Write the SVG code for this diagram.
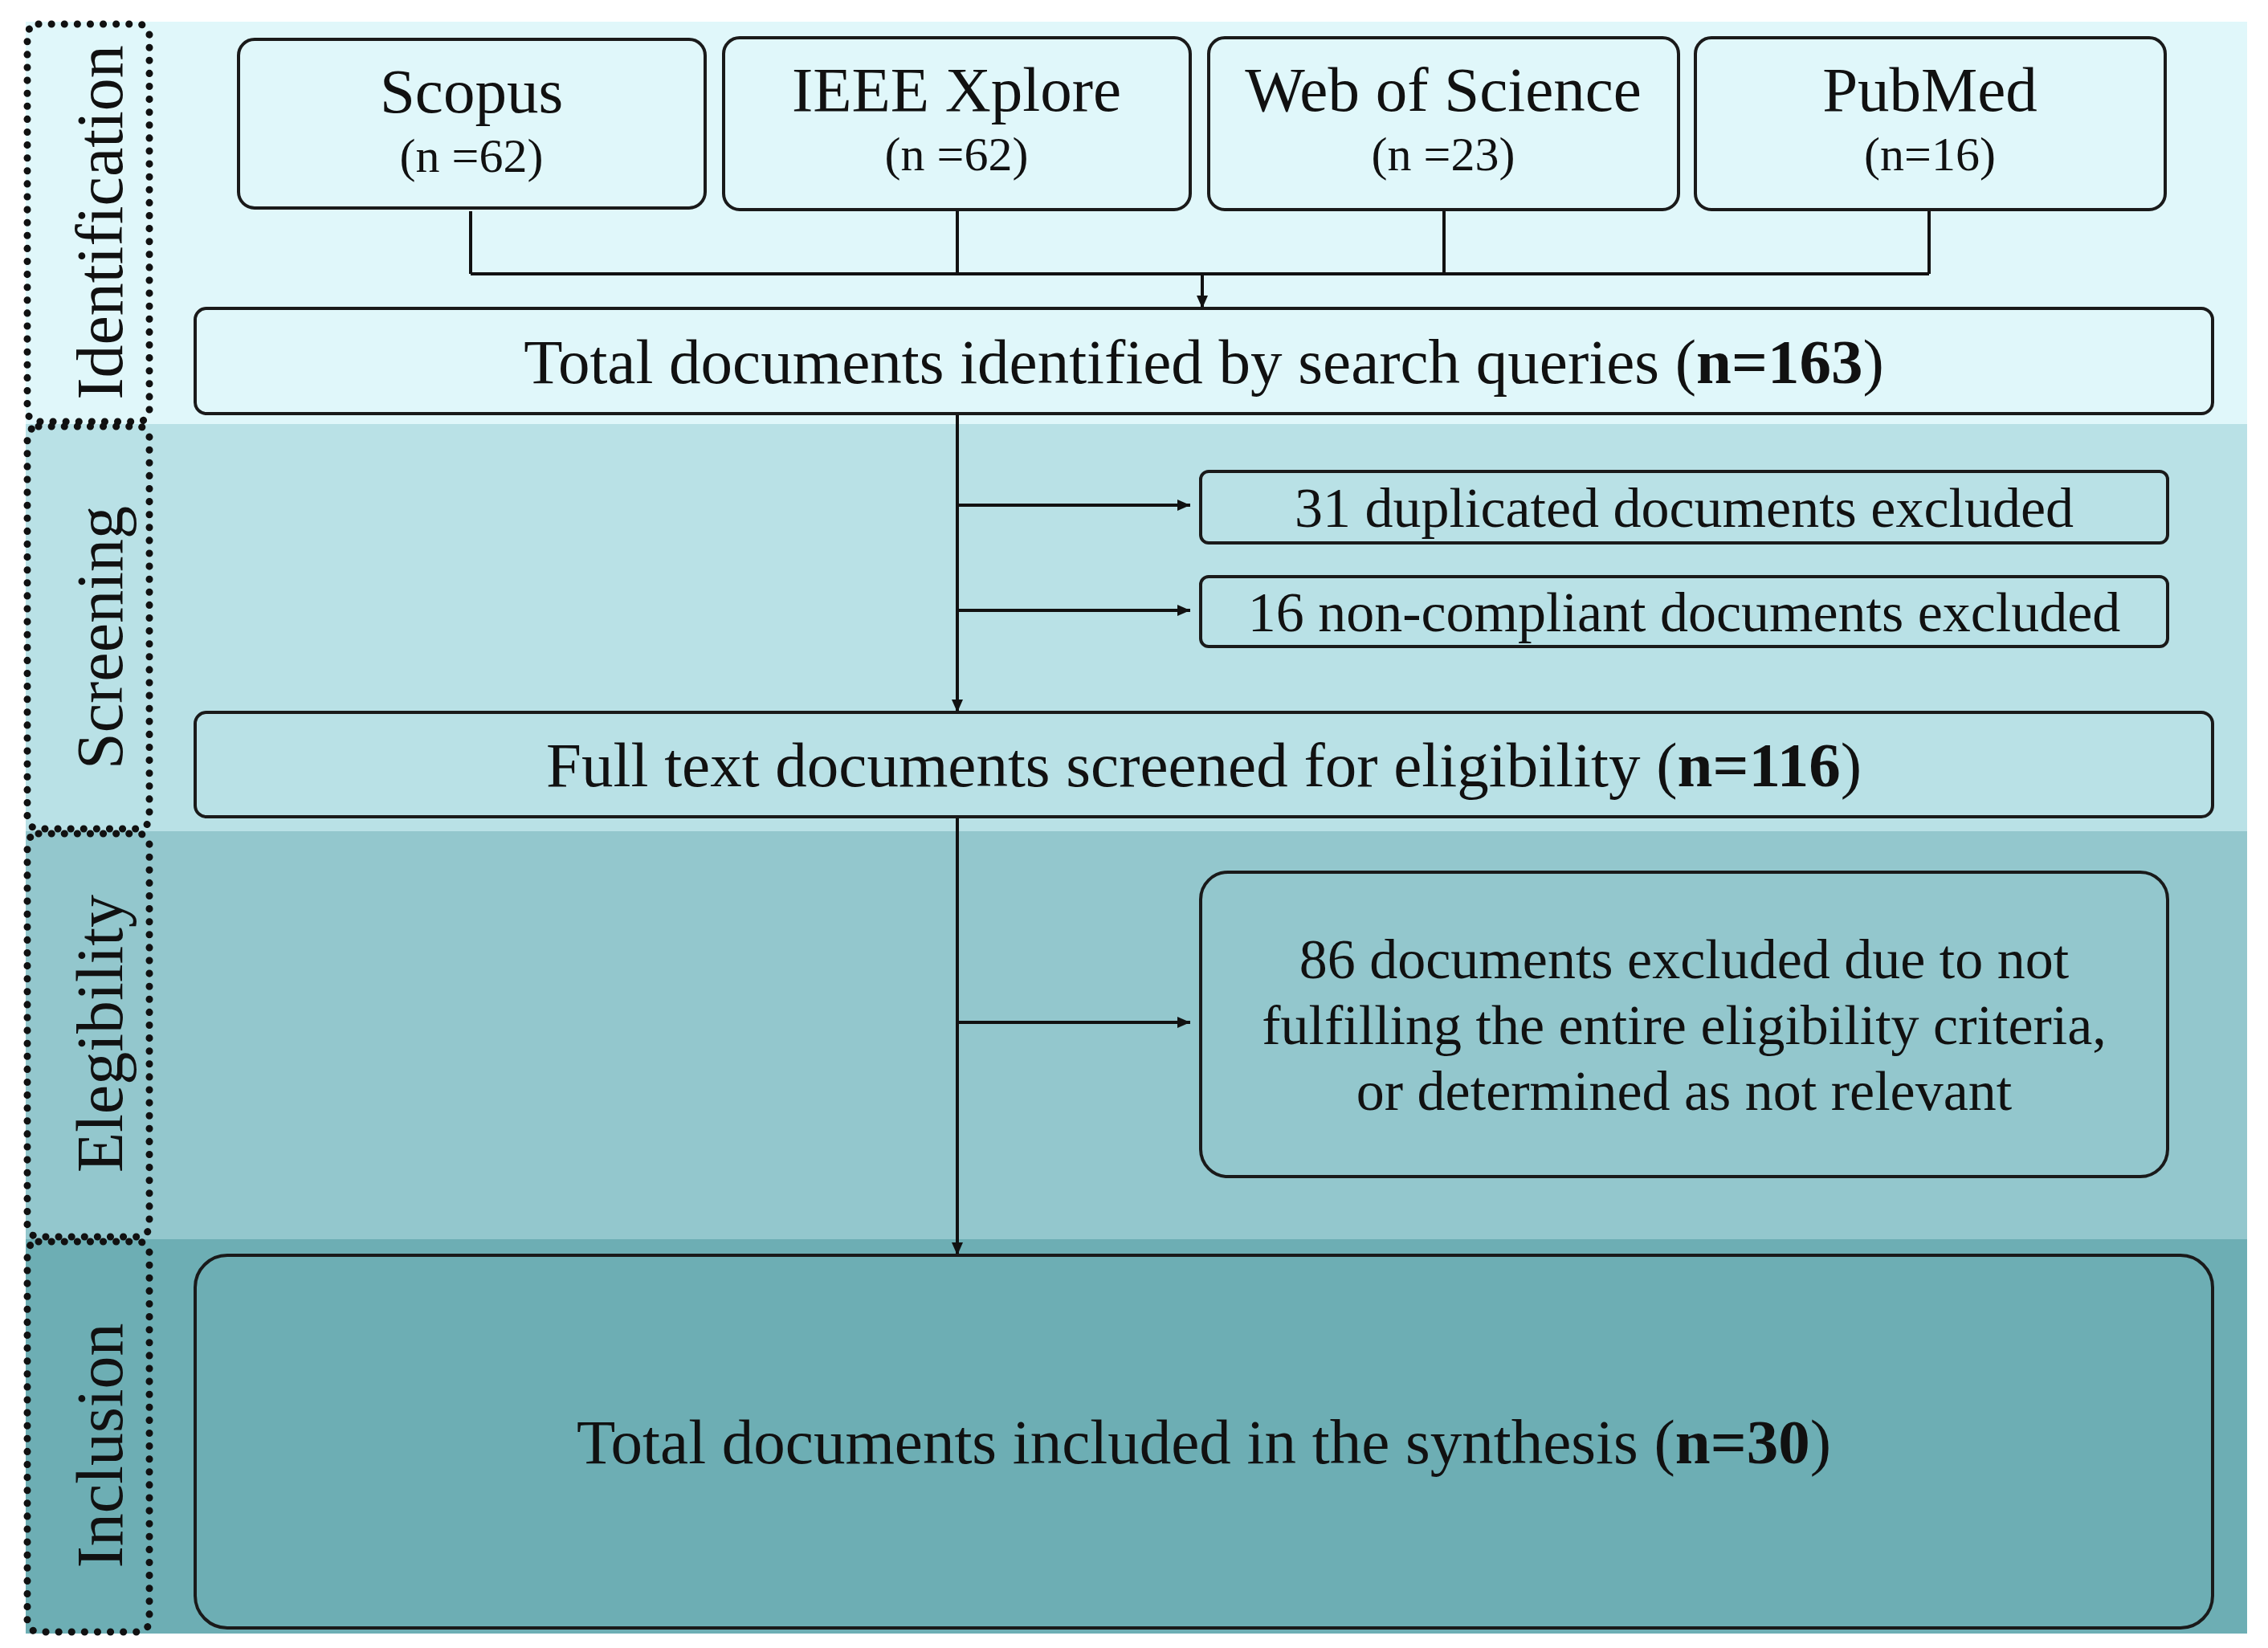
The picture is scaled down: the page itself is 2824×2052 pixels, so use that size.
<svg xmlns="http://www.w3.org/2000/svg" width="2824" height="2052" viewBox="0 0 2824 2052">
<style>
text{font-family:"Liberation Serif","DejaVu Serif",serif;fill:#111;text-anchor:middle}
.box{stroke:#1a1a1a;stroke-width:4}
.dot{fill:none;stroke:#111;stroke-width:9;stroke-dasharray:0.1 16;stroke-linecap:round}
.ln{fill:none;stroke:#111;stroke-width:4}
.lab{font-size:82px}
.big{font-size:79px}
.mid{font-size:70px}
.sm{font-size:60px}
</style>
<defs>
<marker id="ah2" markerWidth="16" markerHeight="16" refX="16" refY="8" orient="auto" markerUnits="userSpaceOnUse" viewBox="0 0 16 16"><path d="M0,1L16,8L0,15z" fill="#111"/></marker></defs>
<rect width="2824" height="2052" fill="#fff"/>
<g id="bands">
<rect x="32" y="27" width="2766" height="501" fill="#e0f7fa"/>
<rect x="32" y="528" width="2766" height="507" fill="#b9e1e6"/>
<rect x="32" y="1035" width="2766" height="508" fill="#93c7cd"/>
<rect x="32" y="1543" width="2766" height="491" fill="#6daeb4"/>
</g>
<g id="stage-labels">
<rect class="dot" x="34" y="30" width="152" height="495" rx="14"/>
<rect class="dot" x="34" y="531" width="152" height="501" rx="14"/>
<rect class="dot" x="34" y="1038" width="152" height="502" rx="14"/>
<rect class="dot" x="34" y="1546" width="152" height="486" rx="14"/>
<text class="lab" transform="translate(152,277) rotate(-90)">Identification</text>
<text class="lab" transform="translate(152,794) rotate(-90)">Screening</text>
<text class="lab" transform="translate(152,1287) rotate(-90)">Elegibility</text>
<text class="lab" transform="translate(152,1800) rotate(-90)">Inclusion</text>
</g>
<g id="connectors">
<path class="ln" d="M586,263V341M1192,263V341M1798,263V341M2402,263V341M586,341H2402"/>
<path class="ln" d="M1497,341V384" marker-end="url(#ah2)"/>
<path class="ln" d="M1192,515V887" marker-end="url(#ah2)"/>
<path class="ln" d="M1192,1017V1563" marker-end="url(#ah2)"/>
<path class="ln" d="M1192,629H1482" marker-end="url(#ah2)"/>
<path class="ln" d="M1192,760H1482" marker-end="url(#ah2)"/>
<path class="ln" d="M1192,1273H1482" marker-end="url(#ah2)"/>
</g>
<g id="scopus"><rect class="box" x="297" y="49" width="581" height="210" rx="20" fill="#e0f7fa"/>
<text class="big" x="587" y="140">Scopus</text><text class="sm" x="587" y="214">(n =62)</text></g>
<g id="ieee"><rect class="box" x="901" y="47" width="581" height="214" rx="20" fill="#e0f7fa"/>
<text class="big" x="1191" y="138">IEEE Xplore</text><text class="sm" x="1191" y="212">(n =62)</text></g>
<g id="wos"><rect class="box" x="1505" y="47" width="585" height="214" rx="20" fill="#e0f7fa"/>
<text class="big" x="1797" y="138">Web of Science</text><text class="sm" x="1797" y="212">(n =23)</text></g>
<g id="pubmed"><rect class="box" x="2111" y="47" width="585" height="214" rx="20" fill="#e0f7fa"/>
<text class="big" x="2403" y="138">PubMed</text><text class="sm" x="2403" y="212">(n=16)</text></g>
<g id="total"><rect class="box" x="243" y="384" width="2512" height="131" rx="14" fill="#e0f7fa"/>
<text class="big" x="1499" y="477">Total documents identified by search queries (<tspan font-weight="bold">n=163</tspan>)</text></g>
<g id="dup"><rect class="box" x="1495" y="587" width="1204" height="89" rx="10" fill="#b9e1e6"/>
<text class="mid" x="2097" y="656">31 duplicated documents excluded</text></g>
<g id="noncomp"><rect class="box" x="1495" y="718" width="1204" height="87" rx="10" fill="#b9e1e6"/>
<text class="mid" x="2097" y="786">16 non-compliant documents excluded</text></g>
<g id="fulltext"><rect class="box" x="243" y="887" width="2512" height="130" rx="14" fill="#b9e1e6"/>
<text class="big" x="1499" y="979">Full text documents screened for eligibility (<tspan font-weight="bold">n=116</tspan>)</text></g>
<g id="excluded"><rect class="box" x="1495" y="1086" width="1204" height="379" rx="34" fill="#93c7cd"/>
<text class="mid" x="2097" y="1218">86 documents excluded due to not</text>
<text class="mid" x="2097" y="1300">fulfilling the entire eligibility criteria,</text>
<text class="mid" x="2097" y="1382">or determined as not relevant</text></g>
<g id="included"><rect class="box" x="243" y="1563" width="2512" height="464" rx="40" fill="#6daeb4"/>
<text class="big" x="1499" y="1822">Total documents included in the synthesis (<tspan font-weight="bold">n=30</tspan>)</text></g>
</svg>
